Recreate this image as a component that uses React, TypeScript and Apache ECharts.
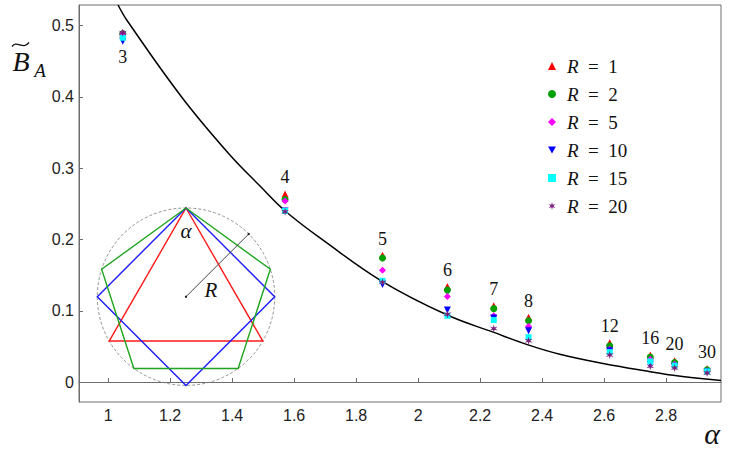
import React, { useEffect, useRef } from "react";
import * as echarts from "echarts";

// ---------- data ----------
const polygonLabels = ["3", "4", "5", "6", "7", "8", "12", "16", "20", "30"];
const alphaValues = [1.0472, 1.5708, 1.885, 2.0944, 2.244, 2.3562, 2.618, 2.7489, 2.8274, 2.9322];

const rValues = [1, 2, 5, 10, 15, 20];
const bR1 = [0.490, 0.264, 0.178, 0.134, 0.107, 0.091, 0.055, 0.038, 0.030, 0.0187];
const bR2 = [0.489, 0.256, 0.174, 0.129, 0.103, 0.086, 0.051, 0.035, 0.0275, 0.0173];
const bR5 = [0.489, 0.254, 0.157, 0.120, 0.093, 0.078, 0.046, 0.032, 0.025, 0.0159];
const bR10 = [0.478, 0.240, 0.137, 0.101, 0.090, 0.072, 0.044, 0.025, 0.022, 0.014];
const bR15 = [0.483, 0.240, 0.142, 0.093, 0.087, 0.063, 0.042, 0.029, 0.023, 0.0149];
const bR20 = [0.490, 0.239, 0.140, 0.095, 0.075, 0.058, 0.038, 0.022, 0.0196, 0.0126];

const curveAlpha = [1.032, 1.06, 1.237, 1.39, 1.49, 1.571, 1.70, 1.885, 2.094, 2.242, 2.352, 2.457, 2.597, 2.742, 2.823, 2.919, 2.977];
const curveB = [0.529, 0.508, 0.400, 0.320, 0.275, 0.240, 0.197, 0.141, 0.094, 0.070, 0.0525, 0.039, 0.026, 0.015, 0.0095, 0.0045, 0.002];

const xTicks = [1, 1.2, 1.4, 1.6, 1.8, 2, 2.2, 2.4, 2.6, 2.8];
const yTicks = [0, 0.1, 0.2, 0.3, 0.4, 0.5];

// ---------- styles ----------
const SERIF = "Liberation Serif";
const SANS = "Liberation Sans";

function starPath(points: number, inner: number): string {
  let d = "";
  for (let i = 0; i < points * 2; i++) {
    const ang = (i * Math.PI) / points - Math.PI / 2;
    const r = i % 2 ? inner : 1;
    const x = 1 + r * Math.cos(ang);
    const y = 1 + r * Math.sin(ang);
    d += (i ? "L" : "M") + x.toFixed(3) + "," + y.toFixed(3);
  }
  return "path://" + d + "Z";
}

const seriesStyles = [
  { color: "#ff0000", symbol: "triangle", size: 7 },
  { color: "#00a000", symbol: "circle", size: 7 },
  { color: "#ff00ff", symbol: "diamond", size: 7 },
  { color: "#0000ff", symbol: "path://M0,0L2,0L1,1.8Z", size: 7 },
  { color: "#00ffff", symbol: "rect", size: 6 },
  { color: "#7a1f7a", symbol: starPath(6, 0.35), size: 8 },
];

function polygonPoints(cx: number, cy: number, r: number, n: number): number[][] {
  const pts: number[][] = [];
  for (let k = 0; k < n; k++) {
    const a = -Math.PI / 2 + (2 * Math.PI * k) / n;
    pts.push([cx + r * Math.cos(a), cy + r * Math.sin(a)]);
  }
  return pts;
}

export default function App() {
  const ref = useRef<HTMLDivElement>(null);
  useEffect(() => {
    if (!ref.current) return;
    const chart = echarts.init(ref.current, null, { renderer: "svg" });
    const bSets = [bR1, bR2, bR5, bR10, bR15, bR20];
    const names = rValues.map((r) => "R=" + r);

    const scatterSeries = bSets.map((vals, si) => ({
      type: "scatter",
      name: names[si],
      symbol: seriesStyles[si].symbol,
      symbolSize: seriesStyles[si].size,
      itemStyle: { color: seriesStyles[si].color, opacity: 1 },
      z: 3 + si,
      label:
        si === 0
          ? {
              show: true,
              position: "top",
              distance: 4,
              formatter: (p: any) => polygonLabels[p.dataIndex],
              fontFamily: SERIF,
              fontSize: 18,
              color: "#111",
            }
          : { show: false },
      data: alphaValues.map((a, i) =>
        si === 0 && i === 0
          ? { value: [a, vals[i]], label: { position: "bottom", distance: 12 } }
          : { value: [a, vals[i]] }
      ),
    }));

    // inset illustration (decorative)
    const cx = 186, cy = 296.7, rr = 88.7;
    const polyStyle = (c: string) => ({ stroke: c, fill: "none", lineWidth: 1.4 });
    const rEnd = [cx + rr * Math.cos(-Math.PI / 4), cy + rr * Math.sin(-Math.PI / 4)];

    const option: any = {
      animation: false,
      grid: {
        left: 79, right: 10, top: 5, bottom: 52,
        show: true, borderColor: "#6e6e6e", borderWidth: 1,
        containLabel: false,
      },
      xAxis: {
        type: "value",
        min: 0.906, max: 2.977,
        axisLine: { show: true, lineStyle: { color: "#6e6e6e", width: 1 } },
        axisTick: { show: true, inside: true, length: 4, customValues: xTicks, lineStyle: { color: "#6e6e6e" } },
        axisLabel: {
          customValues: xTicks, margin: 5,
          fontFamily: SANS, fontSize: 16, color: "#222",
          formatter: (v: number) => String(v),
        },
        splitLine: { show: false },
      },
      yAxis: {
        type: "value",
        min: -0.028, max: 0.529,
        axisLine: { show: true, lineStyle: { color: "#6e6e6e", width: 1 } },
        axisTick: { show: true, inside: true, length: 4, customValues: yTicks, lineStyle: { color: "#6e6e6e" } },
        axisLabel: {
          customValues: yTicks, margin: 5,
          fontFamily: SANS, fontSize: 16, color: "#222",
          formatter: (v: number) => String(v),
        },
        splitLine: { show: false },
      },
      legend: {
        orient: "vertical",
        left: 543, top: 51,
        itemWidth: 8, itemHeight: 8, itemGap: 8,
        data: names,
        formatter: (n: string) => "{i|R}{n|\u2002=\u2002" + n.split("=")[1] + "}",
        textStyle: {
          fontFamily: SERIF, fontSize: 19, color: "#111", lineHeight: 20,
          padding: [0, 0, 0, 6],
          rich: {
            i: { fontFamily: SERIF, fontStyle: "italic", fontSize: 19, color: "#111", lineHeight: 20 },
            n: { fontFamily: SERIF, fontSize: 19, color: "#111", lineHeight: 20 },
          },
        },
      },
      series: [
        {
          type: "line",
          name: "curve",
          data: curveAlpha.map((a, i) => [a, curveB[i]]),
          showSymbol: false,
          smooth: 0.4,
          lineStyle: { color: "#000", width: 1.5 },
          z: 2,
          clip: true,
        },
        ...scatterSeries,
      ],
      graphic: [
        { type: "circle", shape: { cx, cy, r: rr }, style: { stroke: "#777", fill: "none", lineWidth: 0.8, lineDash: [3, 2] }, z: 10 },
        { type: "polygon", shape: { points: polygonPoints(cx, cy, rr, 3) }, style: polyStyle("#ff1a1a"), z: 11 },
        { type: "polygon", shape: { points: polygonPoints(cx, cy, rr, 4) }, style: polyStyle("#1a1aff"), z: 11 },
        { type: "polygon", shape: { points: polygonPoints(cx, cy, rr, 5) }, style: polyStyle("#1fa51f"), z: 11 },
        { type: "line", shape: { x1: cx, y1: cy, x2: rEnd[0], y2: rEnd[1] }, style: { stroke: "#444", lineWidth: 1 }, z: 12 },
        { type: "circle", shape: { cx, cy, r: 1.2 }, style: { fill: "#222" }, z: 12 },
        { type: "circle", shape: { cx: rEnd[0], cy: rEnd[1], r: 1.2 }, style: { fill: "#222" }, z: 12 },
        { type: "text", x: 186, y: 231, z: 12, style: { text: "α", fontFamily: SERIF, fontStyle: "italic", fontSize: 21, fill: "#111", align: "center", verticalAlign: "middle" } },
        { type: "text", x: 211, y: 290, z: 12, style: { text: "R", fontFamily: SERIF, fontStyle: "italic", fontSize: 21, fill: "#111", align: "center", verticalAlign: "middle" } },
        // axis titles
        { type: "text", x: 712, y: 433, z: 12, style: { text: "α", fontFamily: SERIF, fontStyle: "italic", fontSize: 30, fill: "#111", align: "center", verticalAlign: "middle" } },
        { type: "text", x: 21, y: 61, z: 12, style: { text: "B", fontFamily: SERIF, fontStyle: "italic", fontSize: 28, fill: "#111", align: "center", verticalAlign: "middle" } },
        { type: "text", x: 40, y: 70, z: 12, style: { text: "A", fontFamily: SERIF, fontStyle: "italic", fontSize: 19, fill: "#111", align: "center", verticalAlign: "middle" } },
        { type: "bezierCurve", z: 12, shape: { x1: 12, y1: 46.5, cpx1: 17, cpy1: 39.5, cpx2: 23, cpy2: 50.5, x2: 29, y2: 42.5 }, style: { stroke: "#111", fill: "none", lineWidth: 1.3 } },
      ],
    };
    chart.setOption(option);
    return () => chart.dispose();
  }, []);
  return <div ref={ref} style={{ position: "fixed", left: 0, top: 0, width: 731, height: 454, background: "#fff" }} />;
}
